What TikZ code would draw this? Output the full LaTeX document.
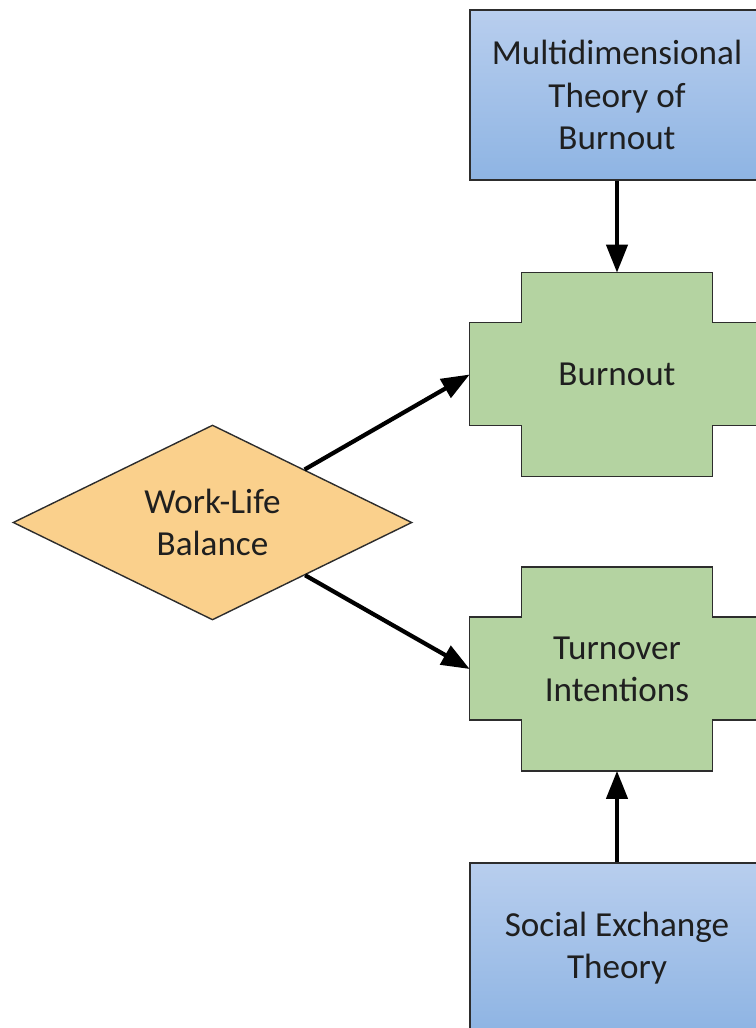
\documentclass[tikz,border=0pt]{standalone}
\usepackage{fontspec}
\setmainfont{Carlito}
\usetikzlibrary{calc,shapes.geometric,arrows.meta,backgrounds}
\definecolor{theorytop}{RGB}{184,206,238}
\definecolor{theorybot}{RGB}{142,180,227}
\definecolor{outcomefill}{RGB}{180,211,161}
\definecolor{factorfill}{RGB}{250,208,140}
\definecolor{edgegray}{RGB}{45,45,45}
\tikzset{
  theory/.style={draw=edgegray, line width=0.8pt, top color=theorytop, bottom color=theorybot,
    minimum width=5.88cm, minimum height=3.4cm, align=center},
  outcome/.style={minimum width=5.88cm, minimum height=4.06cm, align=center},
  factor/.style={diamond, draw=edgegray, line width=0.8pt, fill=factorfill, aspect=2,
    minimum width=7.98cm, minimum height=3.9cm, inner sep=0pt, align=center},
  link/.style={line width=2.4pt, -{Triangle[length=16pt,width=12pt]}}
}
% plus-shaped outline behind an outcome node
\newcommand{\crossdraw}[1]{\draw[draw=edgegray, line width=0.8pt, fill=outcomefill]
  ($(#1.north west)+(52,0)$) -- ($(#1.north east)+(-52,0)$) -- ($(#1.north east)+(-52,50)$)
  -- ($(#1.north east)+(0,50)$) -- ($(#1.south east)+(0,-51)$) -- ($(#1.south east)+(-52,-51)$)
  -- ($(#1.south east)+(-52,0)$) -- ($(#1.south west)+(52,0)$) -- ($(#1.south west)+(52,-51)$)
  -- ($(#1.south west)+(0,-51)$) -- ($(#1.north west)+(0,50)$) -- ($(#1.north west)+(52,50)$) -- cycle}

\begin{document}
\begin{tikzpicture}[x=0.02cm, y=-0.02cm, font=\fontsize{20}{24}\selectfont, text=black!88]
  \useasboundingbox (0,0) rectangle (756,1028);

  \node[theory] (mdt) at (617,95) {Multidimensional\\Theory of\\Burnout};
  \node[outcome] (burnout) at (617,374.5) {Burnout};
  \node[outcome] (turnover) at (617,669) {Turnover\\Intentions};
  \node[theory] (set) at (617,948) {Social Exchange\\Theory};
  \node[factor] (wlb) at (212.5,522.5) {Work-Life\\Balance};

  \begin{scope}[on background layer]
    \crossdraw{burnout};
    \crossdraw{turnover};
  \end{scope}

  \draw[link] (mdt) -- (burnout);
  \draw[link] (set) -- (turnover);
  \draw[link] (wlb) -- (burnout.west);
  \draw[link] (wlb) -- (turnover.west);
\end{tikzpicture}
\end{document}
